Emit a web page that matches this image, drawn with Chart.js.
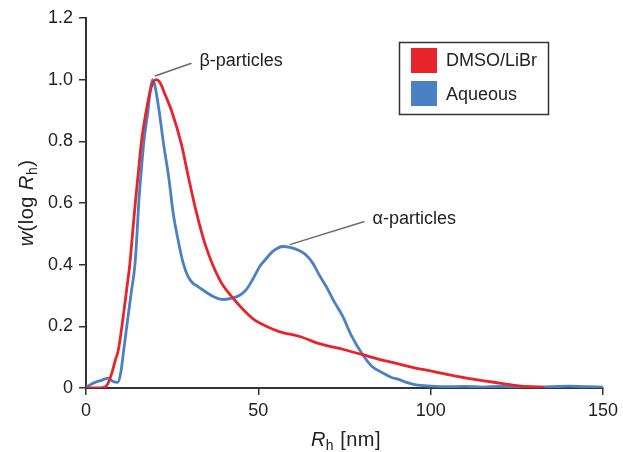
<!DOCTYPE html>
<html>
<head>
<meta charset="utf-8">
<script src="https://cdn.jsdelivr.net/npm/chart.js@4"></script>
<style>
  html, body { margin: 0; padding: 0; background: #fff; }
  #wrap { width: 623px; height: 452px; }
</style>
</head>
<body>
<div id="wrap"><canvas id="myChart" width="623" height="452"></canvas></div>
<script>
// DMSO/LiBr curve
const dmsoX = [0, 4, 5.8, 7.4, 8.5, 9.4, 10.8, 11.8, 12.7, 13.5, 14.3, 15.2, 16.1, 17.5, 18.8, 20.3, 21.5, 23, 24.8, 27.7, 29.6, 31.8, 34.6, 38.8, 42.6, 46, 49, 52.3, 56, 62, 67.7, 75, 80.3, 85, 90, 95, 100.6, 105, 110, 115, 119.9, 125, 129, 133];
const dmsoY = [0, 0, 0.005, 0.045, 0.09, 0.124, 0.232, 0.32, 0.4, 0.5, 0.6, 0.7, 0.8, 0.9, 0.97, 1.0, 0.99, 0.95, 0.9, 0.79, 0.69, 0.58, 0.465, 0.351, 0.292, 0.25, 0.22, 0.2, 0.183, 0.167, 0.144, 0.124, 0.108, 0.093, 0.08, 0.066, 0.054, 0.043, 0.033, 0.024, 0.016, 0.008, 0.004, 0.002];

// Aqueous curve
const aqX = [0, 0.5, 1.5, 3, 4.5, 6.5, 7.7, 9.2, 10.1, 10.8, 12.2, 13.2, 14.2, 14.8, 15.3, 16, 16.8, 18, 18.7, 19.3, 20, 21.2, 22.4, 24.1, 25.3, 26.7, 28.2, 29.6, 31, 32.5, 36.9, 40, 42.6, 44.5, 46.5, 48.5, 50.4, 52.3, 54.2, 57.1, 59.5, 62, 64, 65.8, 67.5, 69.7, 72, 74.5, 77, 80.3, 83, 86.1, 88.5, 90.9, 93, 95.7, 100, 105, 110, 115, 120, 125, 130, 135, 140, 145, 150];
const aqY = [0, 0.005, 0.012, 0.02, 0.025, 0.032, 0.022, 0.018, 0.05, 0.11, 0.232, 0.315, 0.4, 0.5, 0.6, 0.7, 0.8, 0.9, 0.97, 1.0, 0.98, 0.9, 0.8, 0.675, 0.567, 0.481, 0.405, 0.362, 0.34, 0.329, 0.297, 0.287, 0.292, 0.3, 0.319, 0.355, 0.394, 0.42, 0.443, 0.459, 0.455, 0.445, 0.43, 0.405, 0.37, 0.329, 0.28, 0.232, 0.17, 0.108, 0.07, 0.049, 0.035, 0.027, 0.018, 0.01, 0.006, 0.004, 0.005, 0.003, 0.005, 0.004, 0.003, 0.004, 0.006, 0.004, 0.003];

const xTicks = [0, 50, 100, 150];
const yTicks = [0, 0.2, 0.4, 0.6, 0.8, 1.0, 1.2];

const seriesNames = ['DMSO/LiBr', 'Aqueous'];
const seriesColors = ['#e8242b', '#4a80c4'];

// callouts: [lineStartX, lineStartY, lineEndX, lineEndY, text]
const callouts = [
    [20, 1.012, 30.6, 1.053, 'β-particles'],
    [59.1, 0.465, 80.8, 0.54, 'α-particles']
];

const FONT = '"Liberation Sans", Arial, sans-serif';

const toPoints = (xs, ys) => xs.map((x, i) => ({ x: x, y: ys[i] }));

// draws mixed italic / subscript text centred on cx
const drawRich = (ctx, parts, cx, y) => {
    let w = 0;
    parts.forEach(p => { ctx.font = p[0] + FONT; w += ctx.measureText(p[1]).width; });
    let px = cx - w / 2;
    parts.forEach(p => {
        ctx.font = p[0] + FONT;
        ctx.fillText(p[1], px, y + p[2]);
        px += ctx.measureText(p[1]).width;
    });
};

const extras = {
    id: 'extras',
    afterDraw(chart) {
        const ctx = chart.ctx;
        const xs = chart.scales.x;
        const ys = chart.scales.y;
        ctx.save();

        // callouts
        callouts.forEach(c => {
            const x1 = xs.getPixelForValue(c[0]);
            const y1 = ys.getPixelForValue(c[1]);
            const x2 = xs.getPixelForValue(c[2]);
            const y2 = ys.getPixelForValue(c[3]);
            ctx.strokeStyle = '#6a6a6a';
            ctx.lineWidth = 1.5;
            ctx.beginPath();
            ctx.moveTo(x1, y1);
            ctx.lineTo(x2, y2);
            ctx.stroke();
            ctx.fillStyle = '#222';
            ctx.font = '18px ' + FONT;
            ctx.textBaseline = 'middle';
            ctx.textAlign = 'left';
            ctx.fillText(c[4], x2 + 8, y2 - 2);
        });

        // legend
        ctx.strokeStyle = '#333';
        ctx.lineWidth = 1.5;
        ctx.strokeRect(399.5, 42.5, 149, 72);
        seriesNames.forEach((n, i) => {
            ctx.fillStyle = seriesColors[i];
            ctx.fillRect(411, 48 + i * 33, 26, 25);
            ctx.fillStyle = '#222';
            ctx.font = '18px ' + FONT;
            ctx.textBaseline = 'middle';
            ctx.fillText(n, 446, 61 + i * 34);
        });

        // axis titles
        ctx.textBaseline = 'alphabetic';
        ctx.letterSpacing = '0.5px';
        drawRich(ctx, [['italic 20px ', 'R', 0], ['14px ', 'h', 4], ['20px ', ' [nm]', 0]], 346, 446);

        ctx.translate(33, 203);
        ctx.rotate(-Math.PI / 2);
        drawRich(ctx, [['italic 20px ', 'w', 0], ['20px ', '(log ', 0], ['italic 20px ', 'R', 0], ['14px ', 'h', 4], ['20px ', ')', 0]], 0, 0);
        ctx.restore();
    }
};

const constructChart = () => {
    const data = {
        datasets: [{
            label: seriesNames[0],
            data: toPoints(dmsoX, dmsoY),
            borderColor: seriesColors[0],
            borderWidth: 2.8,
            pointRadius: 0,
            cubicInterpolationMode: 'monotone'
        }, {
            label: seriesNames[1],
            data: toPoints(aqX, aqY),
            borderColor: seriesColors[1],
            borderWidth: 2.8,
            pointRadius: 0,
            cubicInterpolationMode: 'monotone'
        }]
    };

    const config = {
        type: 'line',
        data: data,
        options: {
            responsive: false,
            animation: false,
            layout: { padding: { left: 0, right: 19, top: 18, bottom: 0 } },
            plugins: {
                legend: { display: false },
                tooltip: { enabled: false }
            },
            scales: {
                x: {
                    type: 'linear',
                    min: 0,
                    max: 150,
                    afterFit: (s) => { s.height = 64; },
                    afterBuildTicks: (s) => { s.ticks = xTicks.map(v => ({ value: v })); },
                    grid: { drawOnChartArea: false, tickLength: 7, color: '#333', lineWidth: 1.5 },
                    border: { color: '#333', width: 2 },
                    ticks: { color: '#222', font: { family: FONT, size: 18 }, padding: 5 }
                },
                y: {
                    min: 0,
                    max: 1.2,
                    afterFit: (s) => { s.width = 86; },
                    afterBuildTicks: (s) => { s.ticks = yTicks.map(v => ({ value: v })); },
                    grid: { drawOnChartArea: false, tickLength: 7, color: '#333', lineWidth: 1.5 },
                    border: { color: '#333', width: 2 },
                    ticks: {
                        color: '#222',
                        font: { family: FONT, size: 18 },
                        padding: 6,
                        callback: (v) => v === 0 ? '0' : v.toFixed(1)
                    }
                }
            }
        },
        plugins: [extras]
    };

    new Chart(document.getElementById('myChart'), config);
};

constructChart();
</script>
</body>
</html>
